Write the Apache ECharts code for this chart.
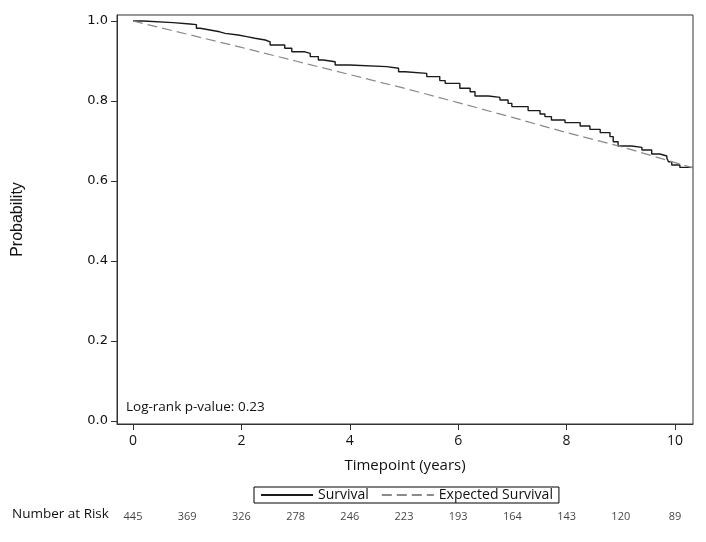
<!DOCTYPE html>
<html>
<head>
<meta charset="utf-8">
<script src="https://cdn.jsdelivr.net/npm/echarts@6/dist/echarts.min.js"></script>
<style>
  html, body { margin: 0; padding: 0; background: #fff; }
  #main { width: 706px; height: 542px; }
</style>
</head>
<body>
<div id="main"></div>
<script>
// Kaplan-Meier survival (step)
var survTime = [0, 0.19, 0.74, 1.05, 1.17, 1.24, 1.42, 1.6, 1.7, 1.94, 2.1, 2.25, 2.44, 2.53, 2.8, 2.93,
  3.17, 3.27, 3.42, 3.51, 3.73, 4.0, 4.68, 4.9, 5.02, 5.42, 5.66, 5.76, 6.03, 6.22, 6.31, 6.56,
  6.77, 6.92, 6.99, 7.29, 7.51, 7.6, 7.72, 7.97, 8.25, 8.43, 8.62, 8.8, 8.86, 8.95, 9.2, 9.39,
  9.57, 9.72, 9.85, 9.88, 9.94, 10.09, 10.33];
var survProb = [1.0, 0.996, 0.9925, 0.991, 0.982, 0.9775, 0.973, 0.969, 0.965, 0.961, 0.957, 0.9525, 0.948, 0.94, 0.932, 0.923,
  0.919, 0.911, 0.9025, 0.898, 0.89, 0.886, 0.882, 0.873, 0.869, 0.861, 0.851, 0.844, 0.832, 0.823, 0.8125, 0.809,
  0.8025, 0.794, 0.786, 0.776, 0.7675, 0.761, 0.7525, 0.746, 0.7375, 0.729, 0.721, 0.711, 0.698, 0.6875, 0.684, 0.6775,
  0.6675, 0.6625, 0.657, 0.648, 0.64, 0.634, 0.634];

// expected survival
var expTime = [0, 1, 2, 3, 4, 5, 6, 7, 8, 9, 10, 10.33];
var expProb = [1.0, 0.967, 0.934, 0.900, 0.866, 0.832, 0.796, 0.759, 0.721, 0.686, 0.646, 0.633];

// number at risk
var riskTimes = [0, 1, 2, 3, 4, 5, 6, 7, 8, 9, 10];
var riskCounts = [445, 369, 326, 278, 246, 223, 193, 164, 143, 120, 89];

var xTicks = [0, 2, 4, 6, 8, 10];
var yTicks = [0, 0.2, 0.4, 0.6, 0.8, 1.0];

var xMin = -0.295, xMax = 10.332;
var yMin = -0.0075, yMax = 1.015;

var survData = survTime.map(function (t, i) { return [t, survProb[i]]; });
var expData = expTime.map(function (t, i) { return [t, expProb[i]]; });
var riskData = riskTimes.map(function (t, i) { return [t, 0, riskCounts[i]]; });

var myChart = echarts.init(document.getElementById('main'));
myChart.setOption({
  animation: false,
  textStyle: { fontFamily: 'Open Sans' },
  grid: [
    { left: 117, right: 13, top: 15, height: 409, show: true, borderColor: '#333', borderWidth: 1 },
    { left: 117, right: 13, top: 508, height: 18 }
  ],
  legend: {
    left: 254, top: 487,
    data: ['Survival', 'Expected Survival'],
    borderColor: '#000', borderWidth: 1,
    padding: [1, 6, 1, 6],
    itemWidth: 52, itemHeight: 10, itemGap: 12,
    itemStyle: { opacity: 0 },
    textStyle: { fontSize: 14, color: '#111', fontFamily: 'Open Sans' }
  },
  xAxis: [
    {
      type: 'value', gridIndex: 0, min: xMin, max: xMax,
      name: 'Timepoint (years)', nameLocation: 'middle', nameGap: 34,
      nameTextStyle: { fontSize: 15, color: '#111', fontFamily: 'Open Sans' },
      axisLine: { show: true, onZero: false, lineStyle: { color: '#333' } },
      axisTick: { show: true, customValues: xTicks, length: 6, lineStyle: { color: '#333' } },
      axisLabel: { customValues: xTicks, fontSize: 14, color: '#111', margin: 10 },
      splitLine: { show: false }
    },
    {
      type: 'value', gridIndex: 1, min: xMin, max: xMax,
      axisLine: { show: false }, axisTick: { show: false }, axisLabel: { show: false }, splitLine: { show: false }
    }
  ],
  yAxis: [
    {
      type: 'value', gridIndex: 0, min: yMin, max: yMax,
      name: 'Probability', nameLocation: 'middle', nameGap: 91,
      nameTextStyle: { fontSize: 16, color: '#111', fontFamily: 'Liberation Sans' },
      axisLine: { show: true, onZero: false, lineStyle: { color: '#333' } },
      axisTick: { show: true, customValues: yTicks, length: 6, lineStyle: { color: '#333' } },
      axisLabel: {
        customValues: yTicks, fontSize: 13, color: '#111', margin: 9, fontFamily: 'DejaVu Sans',
        formatter: function (v) { return v.toFixed(1); }
      },
      splitLine: { show: false }
    },
    {
      type: 'value', gridIndex: 1, min: -1, max: 1,
      axisLine: { show: false }, axisTick: { show: false }, axisLabel: { show: false }, splitLine: { show: false }
    }
  ],
  series: [
    {
      name: 'Survival', type: 'line', step: 'end', data: survData,
      xAxisIndex: 0, yAxisIndex: 0,
      symbol: 'none', lineStyle: { color: '#1a1a1a', width: 1.4 },
      itemStyle: { color: '#1a1a1a' }
    },
    {
      name: 'Expected Survival', type: 'line', data: expData,
      xAxisIndex: 0, yAxisIndex: 0,
      symbol: 'none', lineStyle: { color: '#8a8a8a', width: 1.2, type: [10, 5] },
      itemStyle: { color: '#8a8a8a' }
    },
    {
      name: 'risk', type: 'scatter', data: riskData,
      xAxisIndex: 1, yAxisIndex: 1, symbolSize: 0, silent: true,
      label: {
        show: true, position: 'inside', fontSize: 11, color: '#111', fontFamily: 'Open Sans',
        formatter: function (p) { return String(p.value[2]); }
      }
    }
  ],
  graphic: [
    { type: 'text', left: 12, top: 507, style: { text: 'Number at Risk', fontSize: 13.5, fill: '#111', fontFamily: 'Open Sans' } },
    { type: 'text', left: 126, top: 400, style: { text: 'Log-rank p-value: 0.23', fontSize: 13.5, fill: '#111', fontFamily: 'Open Sans' } }
  ]
});
</script>
</body>
</html>
